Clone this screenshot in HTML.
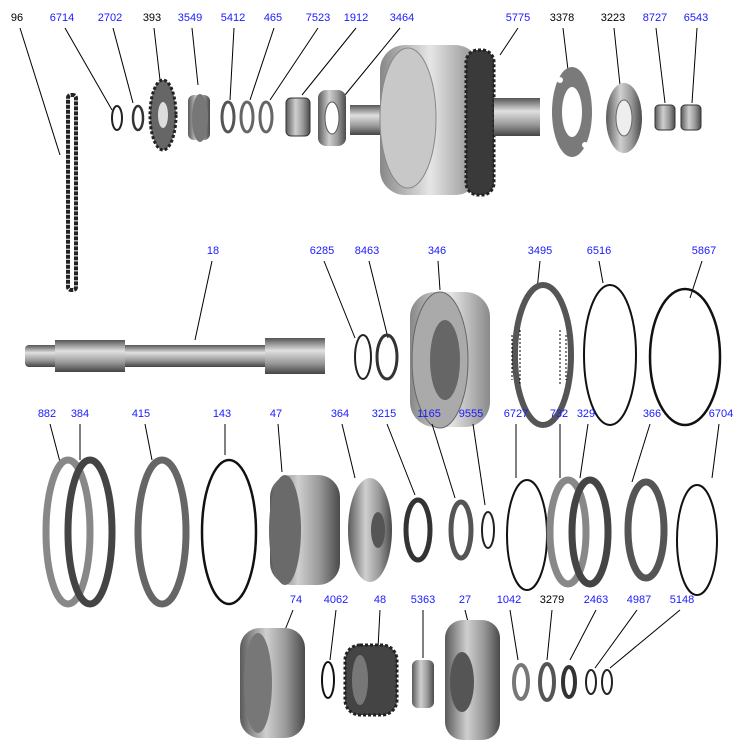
<!DOCTYPE html>
<html><head><meta charset="utf-8"><style>
html,body{margin:0;padding:0;background:#fff;}
svg{display:block;}
text{font-family:"Liberation Sans",sans-serif;font-size:11px;text-anchor:middle;fill:#1a1aff;}
text.k{fill:#000;}
line{stroke:#000;stroke-width:1;}
</style></head><body>
<svg width="755" height="751" viewBox="0 0 755 751" xmlns="http://www.w3.org/2000/svg">
<defs>
<linearGradient id="g" x1="0" x2="1"><stop offset="0" stop-color="#5a5a5a"/><stop offset=".4" stop-color="#cfcfcf"/><stop offset=".7" stop-color="#9a9a9a"/><stop offset="1" stop-color="#4a4a4a"/></linearGradient>
<linearGradient id="gl" x1="0" x2="1"><stop offset="0" stop-color="#888"/><stop offset=".5" stop-color="#e6e6e6"/><stop offset="1" stop-color="#8a8a8a"/></linearGradient>
<linearGradient id="gv" x1="0" y1="0" x2="0" y2="1"><stop offset="0" stop-color="#555"/><stop offset=".35" stop-color="#e0e0e0"/><stop offset=".7" stop-color="#999"/><stop offset="1" stop-color="#444"/></linearGradient>
</defs>
<text x="17" y="21" class="k">96</text><text x="62" y="21">6714</text><text x="110" y="21">2702</text><text x="152" y="21" class="k">393</text><text x="190" y="21">3549</text><text x="233" y="21">5412</text><text x="273" y="21">465</text><text x="318" y="21">7523</text><text x="356" y="21">1912</text><text x="402" y="21">3464</text><text x="518" y="21">5775</text><text x="562" y="21" class="k">3378</text><text x="613" y="21" class="k">3223</text><text x="655" y="21">8727</text><text x="696" y="21">6543</text>
<line x1="20" y1="28" x2="60" y2="155"/><line x1="65" y1="28" x2="112" y2="110"/><line x1="113" y1="28" x2="133" y2="103"/><line x1="154" y1="28" x2="160" y2="80"/><line x1="192" y1="28" x2="198" y2="85"/><line x1="234" y1="28" x2="230" y2="100"/><line x1="274" y1="28" x2="250" y2="100"/><line x1="318" y1="28" x2="270" y2="100"/><line x1="356" y1="28" x2="302" y2="95"/><line x1="400" y1="28" x2="345" y2="95"/><line x1="518" y1="28" x2="500" y2="55"/><line x1="563" y1="28" x2="568" y2="70"/><line x1="614" y1="28" x2="620" y2="85"/><line x1="656" y1="28" x2="665" y2="103"/><line x1="697" y1="28" x2="692" y2="103"/>
<rect x="68" y="95" width="8" height="195" rx="3" fill="none" stroke="#222" stroke-width="4" stroke-dasharray="4 1"/>
<ellipse cx="117" cy="118" rx="5" ry="12" fill="none" stroke="#222" stroke-width="2"/>
<ellipse cx="138" cy="118" rx="5" ry="12" fill="none" stroke="#333" stroke-width="2.5"/>
<ellipse cx="163" cy="115" rx="13" ry="35" fill="#666" stroke="#222" stroke-width="3" stroke-dasharray="3 2"/><ellipse cx="163" cy="115" rx="5" ry="13" fill="#ddd"/>
<rect x="188" y="95" width="22" height="45" rx="6" fill="url(#g)"/><ellipse cx="200" cy="118" rx="8" ry="24" fill="#777"/>
<ellipse cx="228" cy="117" rx="6" ry="15" fill="none" stroke="#555" stroke-width="3"/>
<ellipse cx="247" cy="117" rx="6" ry="15" fill="none" stroke="#666" stroke-width="3"/>
<ellipse cx="266" cy="117" rx="6" ry="15" fill="none" stroke="#666" stroke-width="3"/>
<rect x="286" y="98" width="24" height="38" rx="5" fill="url(#g)" stroke="#333"/>
<rect x="318" y="90" width="28" height="56" rx="8" fill="url(#g)"/><ellipse cx="332" cy="118" rx="7" ry="16" fill="#fff" stroke="#555"/>
<rect x="350" y="105" width="45" height="30" fill="url(#gv)"/>
<rect x="380" y="45" width="100" height="150" rx="25" fill="url(#gl)"/>
<ellipse cx="408" cy="118" rx="28" ry="70" fill="#c8c8c8" stroke="#888"/>
<rect x="466" y="50" width="28" height="145" rx="12" fill="#3a3a3a" stroke="#222" stroke-width="3" stroke-dasharray="3 2"/>
<rect x="494" y="98" width="46" height="38" fill="url(#gv)"/>
<ellipse cx="572" cy="112" rx="20" ry="45" fill="#7a7a7a"/><ellipse cx="572" cy="112" rx="10" ry="25" fill="#fff"/>
<circle cx="560" cy="80" r="3" fill="#fff"/><circle cx="585" cy="145" r="3" fill="#fff"/>
<ellipse cx="624" cy="118" rx="18" ry="35" fill="url(#g)"/><ellipse cx="624" cy="118" rx="8" ry="18" fill="#eee" stroke="#666"/>
<rect x="655" y="105" width="20" height="25" rx="4" fill="url(#g)" stroke="#333"/>
<rect x="681" y="105" width="20" height="25" rx="4" fill="url(#g)" stroke="#333"/>
<text x="213" y="254">18</text><text x="322" y="254">6285</text><text x="367" y="254">8463</text><text x="437" y="254">346</text><text x="540" y="254">3495</text><text x="599" y="254">6516</text><text x="704" y="254">5867</text>
<line x1="212" y1="261" x2="195" y2="340"/><line x1="324" y1="261" x2="355" y2="338"/><line x1="369" y1="261" x2="388" y2="338"/><line x1="438" y1="261" x2="440" y2="290"/><line x1="540" y1="261" x2="537" y2="290"/><line x1="599" y1="261" x2="603" y2="283"/><line x1="702" y1="261" x2="690" y2="298"/>
<rect x="25" y="345" width="300" height="22" rx="4" fill="url(#gv)"/>
<rect x="55" y="340" width="70" height="32" fill="url(#gv)"/>
<rect x="265" y="338" width="60" height="36" fill="url(#gv)"/>
<ellipse cx="363" cy="357" rx="8" ry="22" fill="none" stroke="#222" stroke-width="2"/>
<ellipse cx="387" cy="357" rx="10" ry="22" fill="none" stroke="#333" stroke-width="3"/>
<rect x="410" y="292" width="80" height="135" rx="25" fill="url(#gl)"/>
<ellipse cx="440" cy="360" rx="28" ry="68" fill="#aaa" stroke="#666"/><ellipse cx="445" cy="360" rx="15" ry="40" fill="#666"/>
<ellipse cx="543" cy="355" rx="28" ry="70" fill="none" stroke="#555" stroke-width="6"/>
<g stroke="#333" stroke-width="4" stroke-dasharray="2 2"><line x1="512" y1="335" x2="512" y2="380"/><line x1="520" y1="330" x2="520" y2="385"/><line x1="560" y1="330" x2="560" y2="385"/><line x1="566" y1="335" x2="566" y2="380"/></g>
<ellipse cx="610" cy="355" rx="26" ry="70" fill="none" stroke="#111" stroke-width="2"/>
<ellipse cx="685" cy="357" rx="35" ry="68" fill="none" stroke="#111" stroke-width="2.5"/>
<text x="47" y="417">882</text><text x="80" y="417">384</text><text x="141" y="417">415</text><text x="222" y="417">143</text><text x="276" y="417">47</text><text x="340" y="417">364</text><text x="384" y="417">3215</text><text x="429" y="417">1165</text><text x="471" y="417">9555</text><text x="516" y="417">6727</text><text x="559" y="417">732</text><text x="586" y="417">329</text><text x="652" y="417">366</text><text x="721" y="417">6704</text>
<line x1="50" y1="424" x2="60" y2="462"/><line x1="80" y1="424" x2="80" y2="460"/><line x1="145" y1="424" x2="152" y2="460"/><line x1="225" y1="424" x2="225" y2="455"/><line x1="278" y1="424" x2="282" y2="472"/><line x1="342" y1="424" x2="355" y2="478"/><line x1="387" y1="424" x2="415" y2="495"/><line x1="432" y1="424" x2="455" y2="498"/><line x1="473" y1="424" x2="485" y2="505"/><line x1="516" y1="424" x2="516" y2="478"/><line x1="560" y1="424" x2="560" y2="478"/><line x1="588" y1="424" x2="580" y2="478"/><line x1="650" y1="424" x2="632" y2="482"/><line x1="719" y1="424" x2="712" y2="478"/>
<ellipse cx="68" cy="532" rx="22" ry="72" fill="none" stroke="#888" stroke-width="7"/>
<ellipse cx="90" cy="532" rx="22" ry="72" fill="none" stroke="#444" stroke-width="7"/>
<ellipse cx="162" cy="532" rx="24" ry="72" fill="none" stroke="#666" stroke-width="7"/>
<ellipse cx="229" cy="532" rx="27" ry="72" fill="none" stroke="#111" stroke-width="2.5"/>
<rect x="270" y="475" width="70" height="110" rx="22" fill="url(#g)"/><ellipse cx="285" cy="530" rx="16" ry="55" fill="#6a6a6a"/>
<ellipse cx="370" cy="530" rx="22" ry="52" fill="url(#g)"/><ellipse cx="378" cy="530" rx="7" ry="18" fill="#555"/>
<ellipse cx="418" cy="530" rx="12" ry="30" fill="none" stroke="#333" stroke-width="5"/>
<ellipse cx="461" cy="530" rx="10" ry="28" fill="none" stroke="#555" stroke-width="5"/>
<ellipse cx="488" cy="530" rx="6" ry="18" fill="none" stroke="#222" stroke-width="2"/>
<ellipse cx="527" cy="535" rx="20" ry="55" fill="none" stroke="#111" stroke-width="2"/>
<ellipse cx="568" cy="532" rx="18" ry="52" fill="none" stroke="#888" stroke-width="7"/>
<ellipse cx="590" cy="532" rx="18" ry="52" fill="none" stroke="#444" stroke-width="7"/>
<ellipse cx="646" cy="530" rx="18" ry="48" fill="none" stroke="#555" stroke-width="7"/>
<ellipse cx="697" cy="540" rx="20" ry="55" fill="none" stroke="#111" stroke-width="2"/>
<text x="296" y="603">74</text><text x="336" y="603">4062</text><text x="380" y="603">48</text><text x="423" y="603">5363</text><text x="465" y="603">27</text><text x="509" y="603">1042</text><text x="552" y="603" class="k">3279</text><text x="596" y="603">2463</text><text x="639" y="603">4987</text><text x="682" y="603">5148</text>
<line x1="293" y1="610" x2="285" y2="630"/><line x1="336" y1="610" x2="330" y2="660"/><line x1="380" y1="610" x2="378" y2="648"/><line x1="423" y1="610" x2="423" y2="658"/><line x1="465" y1="610" x2="468" y2="622"/><line x1="510" y1="610" x2="518" y2="660"/><line x1="552" y1="610" x2="547" y2="660"/><line x1="596" y1="610" x2="570" y2="660"/><line x1="637" y1="610" x2="595" y2="668"/><line x1="680" y1="610" x2="610" y2="668"/>
<rect x="240" y="628" width="65" height="110" rx="20" fill="url(#g)"/><ellipse cx="258" cy="683" rx="14" ry="50" fill="#777"/>
<ellipse cx="328" cy="680" rx="6" ry="18" fill="none" stroke="#111" stroke-width="2"/>
<rect x="345" y="645" width="52" height="70" rx="15" fill="#444" stroke="#222" stroke-width="3" stroke-dasharray="3 2"/><ellipse cx="360" cy="680" rx="8" ry="25" fill="#777"/>
<rect x="412" y="660" width="22" height="48" rx="6" fill="url(#g)"/>
<rect x="445" y="620" width="55" height="120" rx="18" fill="url(#g)"/><ellipse cx="462" cy="682" rx="12" ry="30" fill="#555"/>
<ellipse cx="521" cy="682" rx="7" ry="17" fill="none" stroke="#777" stroke-width="4"/>
<ellipse cx="547" cy="682" rx="7" ry="18" fill="none" stroke="#555" stroke-width="4"/>
<ellipse cx="569" cy="682" rx="6" ry="15" fill="none" stroke="#333" stroke-width="4"/>
<ellipse cx="591" cy="682" rx="5" ry="12" fill="none" stroke="#222" stroke-width="2"/>
<ellipse cx="607" cy="682" rx="5" ry="12" fill="none" stroke="#222" stroke-width="2"/>
</svg>
</body></html>
